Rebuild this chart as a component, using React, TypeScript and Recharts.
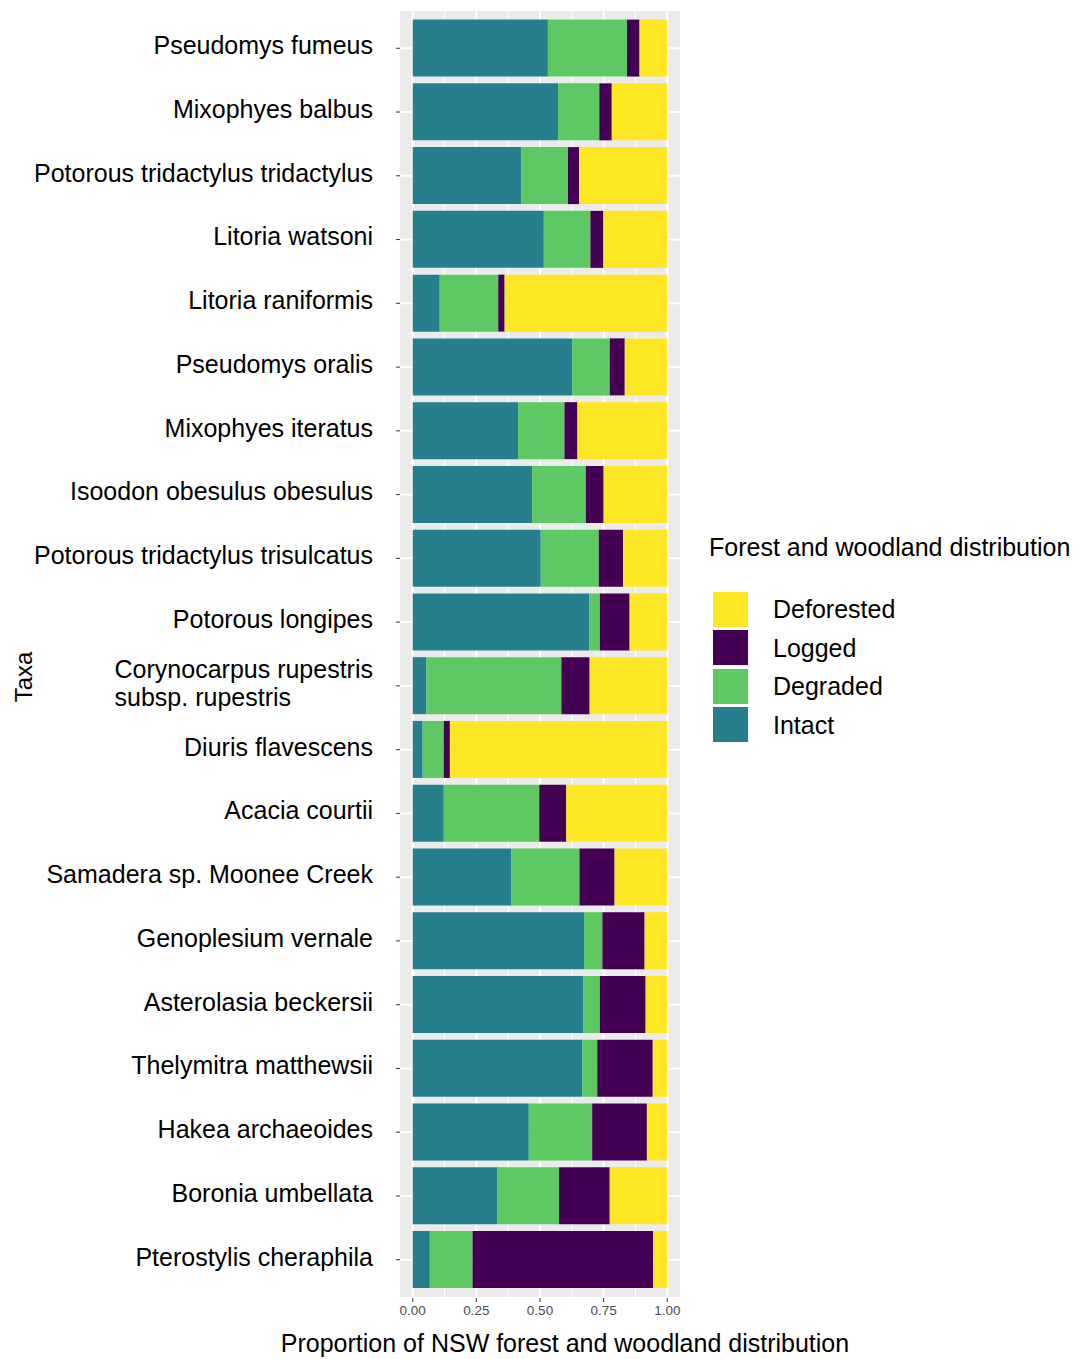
import React, { useLayoutEffect, useRef, useState } from 'react';
import { BarChart, Bar, XAxis, YAxis, CartesianGrid, Legend } from 'recharts';

const FONT = '"Liberation Sans", Arial, Helvetica, sans-serif';

const taxa = [
  'Pseudomys fumeus',
  'Mixophyes balbus',
  'Potorous tridactylus tridactylus',
  'Litoria watsoni',
  'Litoria raniformis',
  'Pseudomys oralis',
  'Mixophyes iteratus',
  'Isoodon obesulus obesulus',
  'Potorous tridactylus trisulcatus',
  'Potorous longipes',
  'Corynocarpus rupestris\nsubsp. rupestris',
  'Diuris flavescens',
  'Acacia courtii',
  'Samadera sp. Moonee Creek',
  'Genoplesium vernale',
  'Asterolasia beckersii',
  'Thelymitra matthewsii',
  'Hakea archaeoides',
  'Boronia umbellata',
  'Pterostylis cheraphila',
];

const intact = [0.531, 0.571, 0.427, 0.515, 0.106, 0.626, 0.414, 0.469, 0.503, 0.693, 0.054, 0.039, 0.122, 0.388, 0.673, 0.671, 0.666, 0.456, 0.333, 0.067];
const degraded = [0.311, 0.162, 0.183, 0.183, 0.230, 0.148, 0.182, 0.211, 0.228, 0.042, 0.530, 0.083, 0.375, 0.267, 0.072, 0.064, 0.059, 0.249, 0.242, 0.168];
const logged = [0.049, 0.049, 0.044, 0.051, 0.025, 0.059, 0.051, 0.070, 0.095, 0.117, 0.111, 0.024, 0.106, 0.138, 0.166, 0.180, 0.218, 0.215, 0.199, 0.710];
const deforested = [0.109, 0.218, 0.346, 0.251, 0.639, 0.167, 0.353, 0.250, 0.174, 0.148, 0.305, 0.854, 0.397, 0.207, 0.089, 0.085, 0.057, 0.080, 0.226, 0.055];

const xTicks = [0, 0.25, 0.5, 0.75, 1];
const xMinorTicks = [0.125, 0.375, 0.625, 0.875];
const xDomain: [number, number] = [-0.05, 1.05];

const stackOrder = ['Intact', 'Degraded', 'Logged', 'Deforested'];
const legendOrder = ['Deforested', 'Logged', 'Degraded', 'Intact'];
const colors: Record<string, string> = {
  Intact: '#277F8E',
  Degraded: '#5EC962',
  Logged: '#440154',
  Deforested: '#FDE725',
};

const data = taxa.map((t, i) => ({
  taxon: t,
  Intact: intact[i],
  Degraded: degraded[i],
  Logged: logged[i],
  Deforested: deforested[i],
}));

function YTick(props: any) {
  const { x, y, payload } = props;
  const lines = String(payload.value).split('\n');
  const ref = useRef<SVGTextElement>(null);
  const [w, setW] = useState(0);
  useLayoutEffect(() => {
    if (lines.length > 1 && ref.current) {
      let max = 0;
      ref.current.querySelectorAll('tspan').forEach((t) => {
        max = Math.max(max, (t as unknown as SVGTextContentElement).getComputedTextLength());
      });
      if (Math.abs(max - w) > 0.5) setW(max);
    }
  });
  const lh = 28;
  const yc = y - 3;
  if (lines.length === 1) {
    return (
      <text x={x} y={yc} dy="0.355em" textAnchor="end" fontSize={25} fontFamily={FONT} fill="#000">
        {lines[0]}
      </text>
    );
  }
  return (
    <text ref={ref} x={x - w} y={yc} textAnchor="start" fontSize={25} fontFamily={FONT} fill="#000">
      {lines.map((l, i) => (
        <tspan key={i} x={x - w} y={yc + (i - (lines.length - 1) / 2) * lh} dy="0.355em">
          {l}
        </tspan>
      ))}
    </text>
  );
}

function LegendBox() {
  return (
    <div style={{ fontFamily: FONT, color: '#000', width: 369, textAlign: 'left' }}>
      <div style={{ fontSize: 25, lineHeight: '30px', height: 30, whiteSpace: 'nowrap' }}>
        Forest and woodland distribution
      </div>
      <div style={{ height: 28 }} />
      {legendOrder.map((k) => (
        <div key={k} style={{ display: 'flex', alignItems: 'center', height: 38.5 }}>
          <div style={{ marginLeft: 4, width: 35, height: 35, background: colors[k] }} />
          <div style={{ marginLeft: 25, fontSize: 25, lineHeight: '30px', whiteSpace: 'nowrap' }}>{k}</div>
        </div>
      ))}
    </div>
  );
}

function XTitle(props: any) {
  const vb = props.viewBox || {};
  return (
    <text
      x={vb.x + vb.width / 2 + 25}
      y={vb.y + vb.height - 7}
      textAnchor="middle"
      fontSize={25}
      fontFamily={FONT}
      fill="#000"
    >
      Proportion of NSW forest and woodland distribution
    </text>
  );
}

function YTitle(props: any) {
  const vb = props.viewBox || {};
  const cx = vb.x + 32;
  const cy = vb.y + vb.height / 2 + 23;
  return (
    <text
      x={cx}
      y={cy}
      transform={`rotate(-90, ${cx}, ${cy})`}
      textAnchor="middle"
      fontSize={24}
      fontFamily={FONT}
      fill="#000"
    >
      Taxa
    </text>
  );
}

export default function App() {
  return (
    <div style={{ position: 'absolute', left: 0, top: 0, width: 1078, height: 1359, background: '#fff' }}>
      <BarChart
        width={1078}
        height={1359}
        data={data}
        layout="vertical"
        margin={{ top: 10, right: 398, bottom: 0, left: 0 }}
        barCategoryGap="5%"
        style={{ fontFamily: FONT }}
      >
        <CartesianGrid
          horizontal={false}
          vertical={true}
          verticalValues={xMinorTicks}
          stroke="#FFFFFF"
          strokeWidth={1}
          fill="#EBEBEB"
        />
        <CartesianGrid stroke="#FFFFFF" strokeWidth={2} verticalValues={xTicks} />
        <XAxis
          type="number"
          domain={xDomain}
          ticks={xTicks}
          allowDataOverflow
          height={61}
          axisLine={false}
          tickLine={{ stroke: '#333333' }}
          tickSize={4}
          tickMargin={3}
          tick={{ fill: '#4D4D4D', fontSize: 13.5, fontFamily: FONT }}
          tickFormatter={(v: number) => v.toFixed(2)}
          label={<XTitle />}
        />
        <YAxis
          type="category"
          dataKey="taxon"
          width={400}
          interval={0}
          axisLine={false}
          tickLine={{ stroke: '#333333' }}
          tickSize={4}
          tickMargin={23}
          padding={{ top: 6.4, bottom: 6.4 }}
          tick={<YTick />}
          label={<YTitle />}
        />
        {stackOrder.map((k) => (
          <Bar key={k} dataKey={k} stackId="s" fill={colors[k]} isAnimationActive={false} />
        ))}
        <Legend
          layout="horizontal"
          verticalAlign="middle"
          align="center"
          content={<LegendBox />}
          wrapperStyle={{ position: 'absolute', left: 709, top: 532, width: 369, height: 'auto' }}
        />
      </BarChart>
    </div>
  );
}
